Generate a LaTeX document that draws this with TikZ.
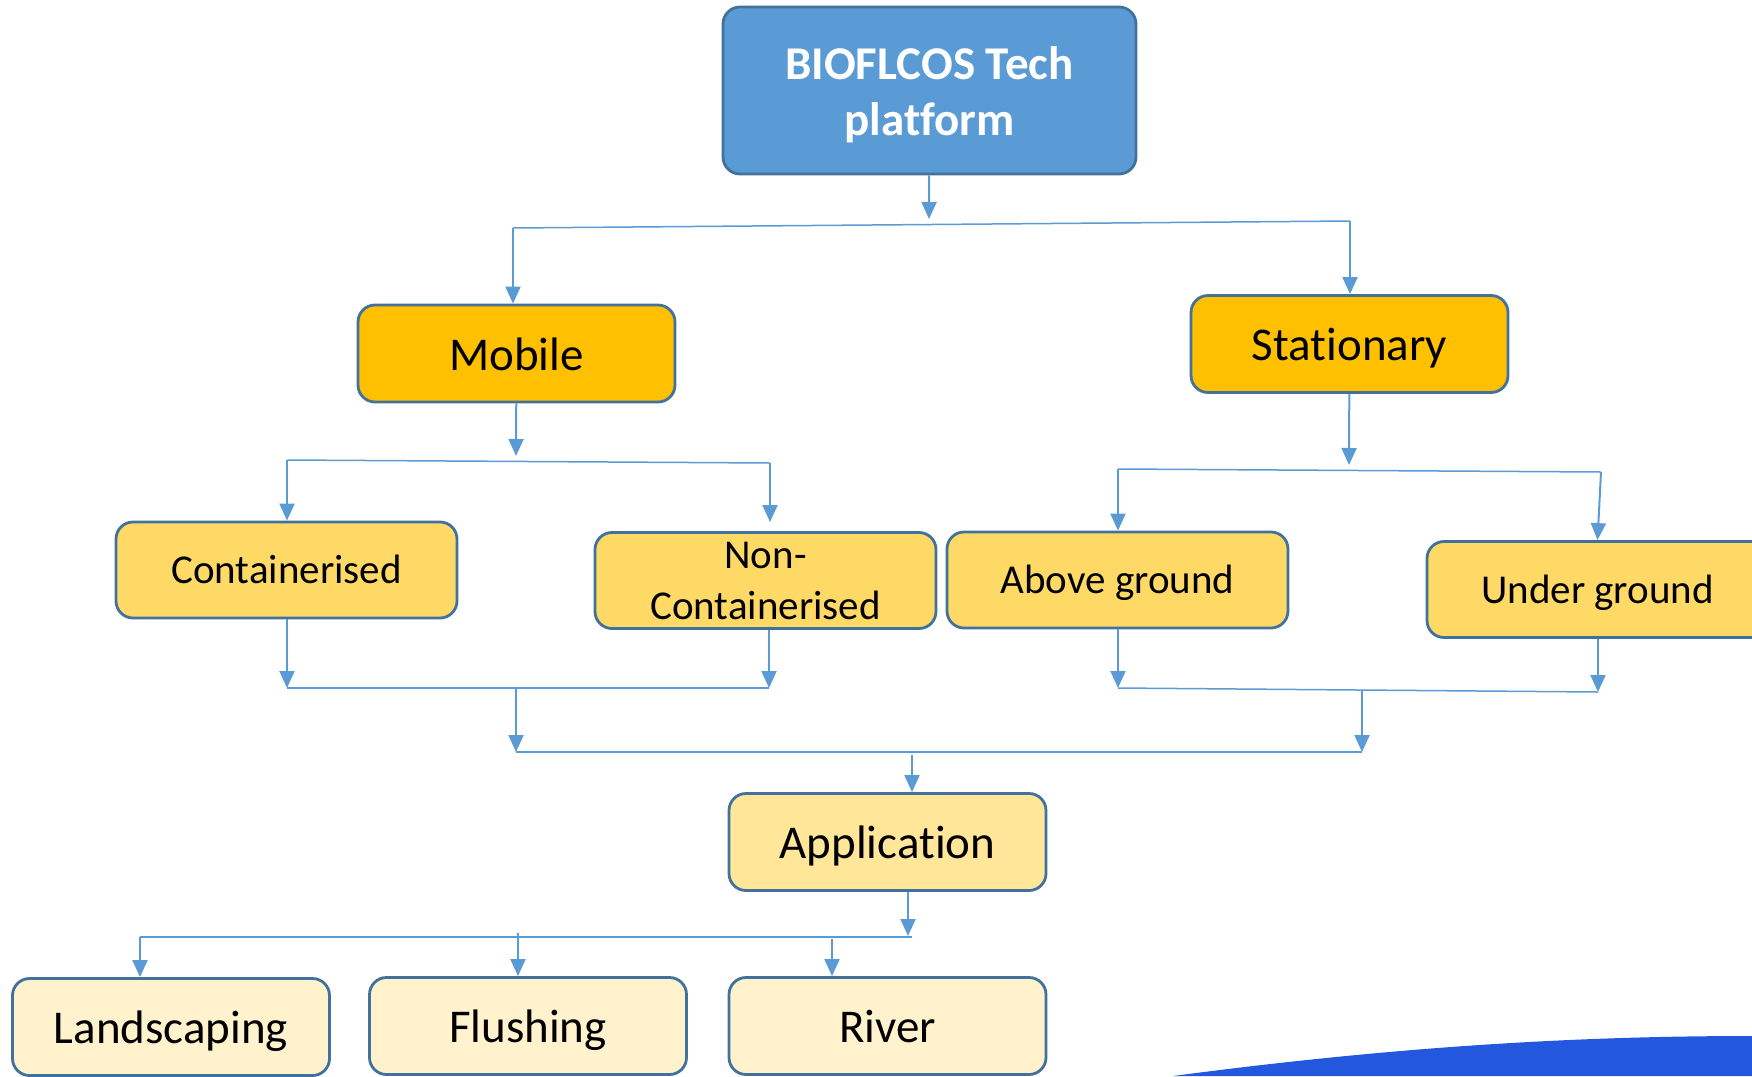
\documentclass[tikz,border=0pt]{standalone}
\usepackage{fontspec}
\setmainfont{Carlito}[Ligatures=NoCommon]
\usetikzlibrary{arrows.meta}

\definecolor{topblue}{HTML}{5B9BD5}
\definecolor{edgeblue}{HTML}{41719C}
\definecolor{gold}{HTML}{FFC000}
\definecolor{midyellow}{HTML}{FFD966}
\definecolor{appyellow}{HTML}{FFE699}
\definecolor{paleyellow}{HTML}{FFF2CC}
\definecolor{linkblue}{HTML}{5B9BD5}
\definecolor{swoosh}{HTML}{2358DE}

\begin{document}
\begin{tikzpicture}[x=1pt,y=-1pt,
    box/.style={draw=edgeblue, line width=2.8pt, rounded corners=17pt, inner sep=0pt, align=center},
    big/.style={font=\fontsize{47}{57}\selectfont},
    small/.style={font=\fontsize{41}{51}\selectfont},
    bigline/.style={big, text height=42pt, text depth=9pt},
    smallline/.style={small, text height=36pt, text depth=8.6pt},
    narrow/.style={minimum width=317pt, minimum height=97pt},
    wide/.style={minimum width=341pt, minimum height=96pt},
    arr/.style={linkblue, line width=2pt, -{Triangle[width=15pt,length=17pt]}},
    bus/.style={linkblue, line width=1.5pt}]
\useasboundingbox (0,0) rectangle (1752,1076);
\clip (0,0) rectangle (1752,1076);

% corner swoosh
\fill[swoosh] (1173,1076) .. controls (1400,1046) and (1580,1036) .. (1752,1036) -- (1752,1076) -- cycle;

% boxes
\node[box, fill=topblue, text=white, minimum width=413pt, minimum height=167pt,
      font=\fontsize{47}{56}\selectfont\bfseries] (top) at (929.5,90.5) {\rule{0pt}{41pt}BIOFLCOS Tech\\platform};
\node[box, bigline, narrow, fill=gold] (mobile) at (516.5,353.5) {Mobile};
\node[box, bigline, narrow, fill=gold] (stat) at (1349.5,344) {Stationary};
\node[box, smallline, wide, fill=midyellow] (cont) at (286.5,570) {Containerised};
\node[box, small, wide, fill=midyellow] (noncont) at (765.5,580.5) {Non-\\Containerised};
\node[box, smallline, wide, fill=midyellow] (above) at (1117.5,580) {Above ground};
\node[box, smallline, wide, fill=midyellow] (under) at (1597.5,589.5) {Under ground};
\node[box, bigline, narrow, fill=appyellow] (app) at (887.5,842) {Application};
\node[box, bigline, narrow, fill=paleyellow] (land) at (171,1027) {Landscaping};
\node[box, bigline, narrow, fill=paleyellow] (flush) at (528,1026) {Flushing};
\node[box, bigline, narrow, fill=paleyellow] (river) at (887.5,1026) {River};

% top split
\coordinate (j0) at (929,219);
\coordinate (m0) at (513,228);
\coordinate (s0) at (1350,221);
\draw[arr] (top) -- (j0);
\draw[bus] (m0) -- (s0);
\draw[arr] (m0) -- (m0 |- mobile.north);
\draw[arr] (s0) -- (s0 |- stat.north);

% mobile split
\coordinate (mj) at (516,456);
\coordinate (c0) at (287,460);
\coordinate (n0) at (770,463);
\coordinate (n1) at (770,522);
\draw[arr] (mobile) -- (mj);
\draw[bus] (c0) -- (n0);
\draw[arr] (c0) -- (c0 |- cont.north);
\draw[arr] (n0) -- (n1);

% stationary split
\coordinate (sj) at (1349,465);
\coordinate (a0) at (1118,469);
\coordinate (u0) at (1601,472);
\draw[arr] (stat) -- (sj);
\draw[bus] (a0) -- (u0);
\draw[arr] (a0) -- (a0 |- above.north);
\draw[arr] (u0) -- (under.north);

% join left
\coordinate (c1) at (287,688);
\coordinate (n2) at (769,688);
\coordinate (mm) at (516,688);
\coordinate (mm1) at (516,752);
\draw[arr] (c1 |- cont.south) -- (c1);
\draw[arr] (n2 |- noncont.south) -- (n2);
\draw[bus] (c1) -- (n2);
\draw[arr] (mm) -- (mm1);

% join right
\coordinate (a1) at (1118,688);
\coordinate (u1) at (1598,692);
\coordinate (sm) at (1362,690);
\coordinate (sm1) at (1362,752);
\draw[arr] (a1 |- above.south) -- (a1);
\draw[arr] (u1 |- under.south) -- (u1);
\draw[bus] (a1) -- (u1);
\draw[arr] (sm) -- (sm1);
\draw[bus] (mm1) -- (sm1);

% into application
\coordinate (ap0) at (912,755);
\draw[arr] (ap0) -- (ap0 |- app.north);

% application split
\coordinate (aj) at (908,936);
\coordinate (l0) at (140,937);
\coordinate (f0) at (518,933);
\coordinate (r0) at (832,939);
\draw[arr] (aj |- app.south) -- (aj);
\draw[bus] (l0) -- (912,937);
\draw[arr] (l0) -- (l0 |- land.north);
\draw[arr] (f0) -- (f0 |- flush.north);
\draw[arr] (r0) -- (r0 |- river.north);
\end{tikzpicture}
\end{document}
